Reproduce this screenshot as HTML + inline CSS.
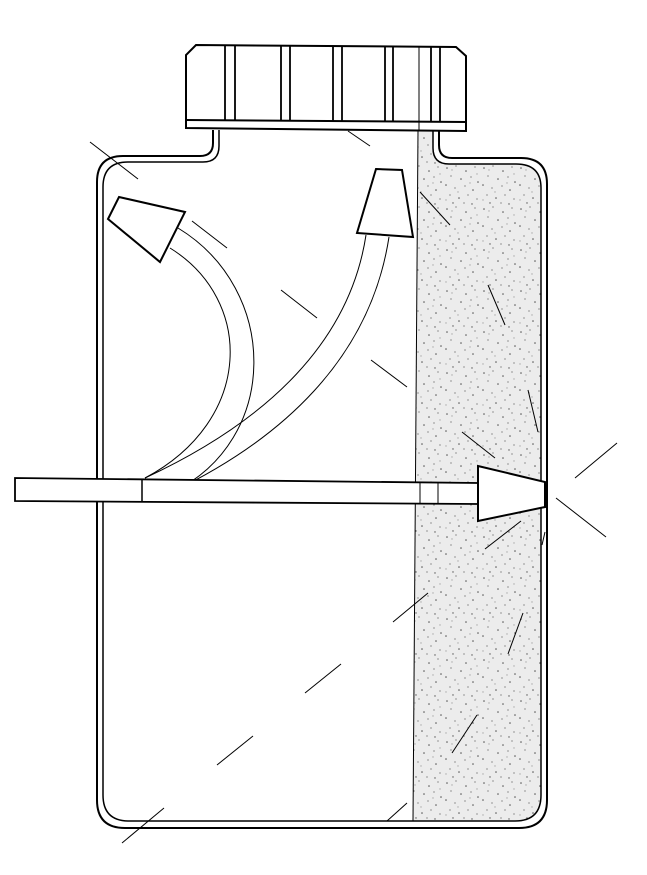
<!DOCTYPE html>
<html><head><meta charset="utf-8"><style>html,body{margin:0;padding:0;background:#fff}svg{display:block}</style></head>
<body>
<svg width="647" height="875" viewBox="0 0 647 875" xmlns="http://www.w3.org/2000/svg">
<defs>
<pattern id="st" width="37" height="41" patternUnits="userSpaceOnUse">
<rect width="37" height="41" fill="#ececec"/>
<g fill="#555">
<circle cx="3" cy="4" r="0.8"/><circle cx="12" cy="2" r="0.6"/><circle cx="22" cy="7" r="0.8"/><circle cx="31" cy="3" r="0.6"/>
<circle cx="7" cy="12" r="0.6"/><circle cx="17" cy="15" r="0.8"/><circle cx="27" cy="13" r="0.6"/><circle cx="34" cy="18" r="0.8"/>
<circle cx="2" cy="21" r="0.8"/><circle cx="11" cy="24" r="0.6"/><circle cx="21" cy="22" r="0.6"/><circle cx="29" cy="26" r="0.8"/>
<circle cx="6" cy="31" r="0.6"/><circle cx="15" cy="34" r="0.8"/><circle cx="24" cy="31" r="0.6"/><circle cx="33" cy="35" r="0.6"/>
<circle cx="9" cy="39" r="0.7"/><circle cx="20" cy="39" r="0.6"/><circle cx="28" cy="40" r="0.7"/>
</g>
<g fill="#aaa">
<circle cx="8" cy="6" r="0.7"/><circle cx="26" cy="19" r="0.7"/><circle cx="14" cy="28" r="0.7"/><circle cx="33" cy="10" r="0.7"/><circle cx="2" cy="36" r="0.7"/>
</g>
</pattern>
</defs>
<g fill="none" stroke="#000">
<!-- stipple -->
<path d="M418,130 L433,130 L433,148 Q433,164 449,164 L516,164 Q541,164 541,188 L541,795 Q541,821 515,821 L413,821 Z" fill="url(#st)" stroke="none"/>
<line x1="418" y1="130" x2="413" y2="821" stroke-width="1"/>
<!-- body -->
<path d="M213,130 L213,143 Q213,156 200,156 L123,156 Q97,156 97,182 L97,800 Q97,828 125,828 L519,828 Q547,828 547,800 L547,184 Q547,158 521,158 L452,158 Q439,158 439,145 L439,130" stroke-width="2"/>
<path d="M219,130 L219,146 Q219,162 203,162 L128,162 Q103,162 103,187 L103,795 Q103,821 129,821 L515,821 Q541,821 541,795 L541,188 Q541,164 516,164 L449,164 Q433,164 433,148 L433,130" stroke-width="1.5"/>
<!-- cap -->
<path d="M196,45 L456,47 L466,56 L466,131 L186,128 L186,55 Z" fill="#fff" stroke-width="2"/>
<line x1="186" y1="120" x2="466" y2="122" stroke-width="2"/>
<g stroke-width="1.8">
<line x1="225" y1="46" x2="225" y2="120"/><line x1="235" y1="46" x2="235" y2="120"/>
<line x1="281" y1="46" x2="281" y2="121"/><line x1="290" y1="46" x2="290" y2="121"/>
<line x1="333" y1="47" x2="333" y2="121"/><line x1="342" y1="47" x2="342" y2="121"/>
<line x1="385" y1="47" x2="385" y2="121"/><line x1="393" y1="47" x2="393" y2="121"/>
<line x1="431" y1="47" x2="431" y2="122"/><line x1="440" y1="47" x2="440" y2="122"/>
</g>
<line x1="419" y1="47" x2="419" y2="130" stroke-width="1"/>
<!-- tubes -->
<path d="M170,248 C254,300 254,420 145,478" stroke-width="1"/>
<path d="M178,228 C280,290 280,440 173,492" stroke-width="1"/>
<path d="M366,235 C350,340 270,420 145,478" stroke-width="1"/>
<path d="M389,237 C370,360 280,440 172,492" stroke-width="1"/>
<polygon points="119,197 185,212 160,262 108,219" fill="#fff" stroke-width="2"/>
<polygon points="376,169 402,170 413,237 357,233" fill="#fff" stroke-width="2"/>
<!-- horizontal tube -->
<polygon points="15,478 478,483 478,504 15,501" fill="#fff" stroke-width="1.8"/>
<line x1="142" y1="479" x2="142" y2="502" stroke-width="1.5"/>
<line x1="420" y1="482" x2="420" y2="504" stroke-width="1"/>
<line x1="438" y1="482" x2="438" y2="504" stroke-width="1"/>
<polygon points="478,466 545,482 545,507 478,521" fill="#fff" stroke-width="2"/>
<!-- leaders -->
<g stroke-width="1">
<line x1="90" y1="142" x2="138" y2="179"/>
<line x1="348" y1="131" x2="370" y2="146"/>
<line x1="192" y1="221" x2="227" y2="248"/>
<line x1="281" y1="290" x2="317" y2="318"/>
<line x1="371" y1="360" x2="407" y2="387"/>
<line x1="420" y1="192" x2="450" y2="225"/>
<line x1="488" y1="285" x2="505" y2="325"/>
<line x1="528" y1="390" x2="538" y2="432"/>
<line x1="462" y1="432" x2="495" y2="458"/>
<line x1="575" y1="478" x2="617" y2="443"/>
<line x1="556" y1="498" x2="606" y2="537"/>
<line x1="485" y1="549" x2="521" y2="521"/>
<line x1="542" y1="545" x2="545" y2="532"/>
<line x1="393" y1="622" x2="428" y2="593"/>
<line x1="508" y1="654" x2="523" y2="613"/>
<line x1="305" y1="693" x2="341" y2="664"/>
<line x1="452" y1="753" x2="477" y2="715"/>
<line x1="217" y1="765" x2="253" y2="736"/>
<line x1="122" y1="843" x2="164" y2="808"/>
<line x1="387" y1="821" x2="407" y2="803"/>
</g>
</g>
</svg>
</body></html>
